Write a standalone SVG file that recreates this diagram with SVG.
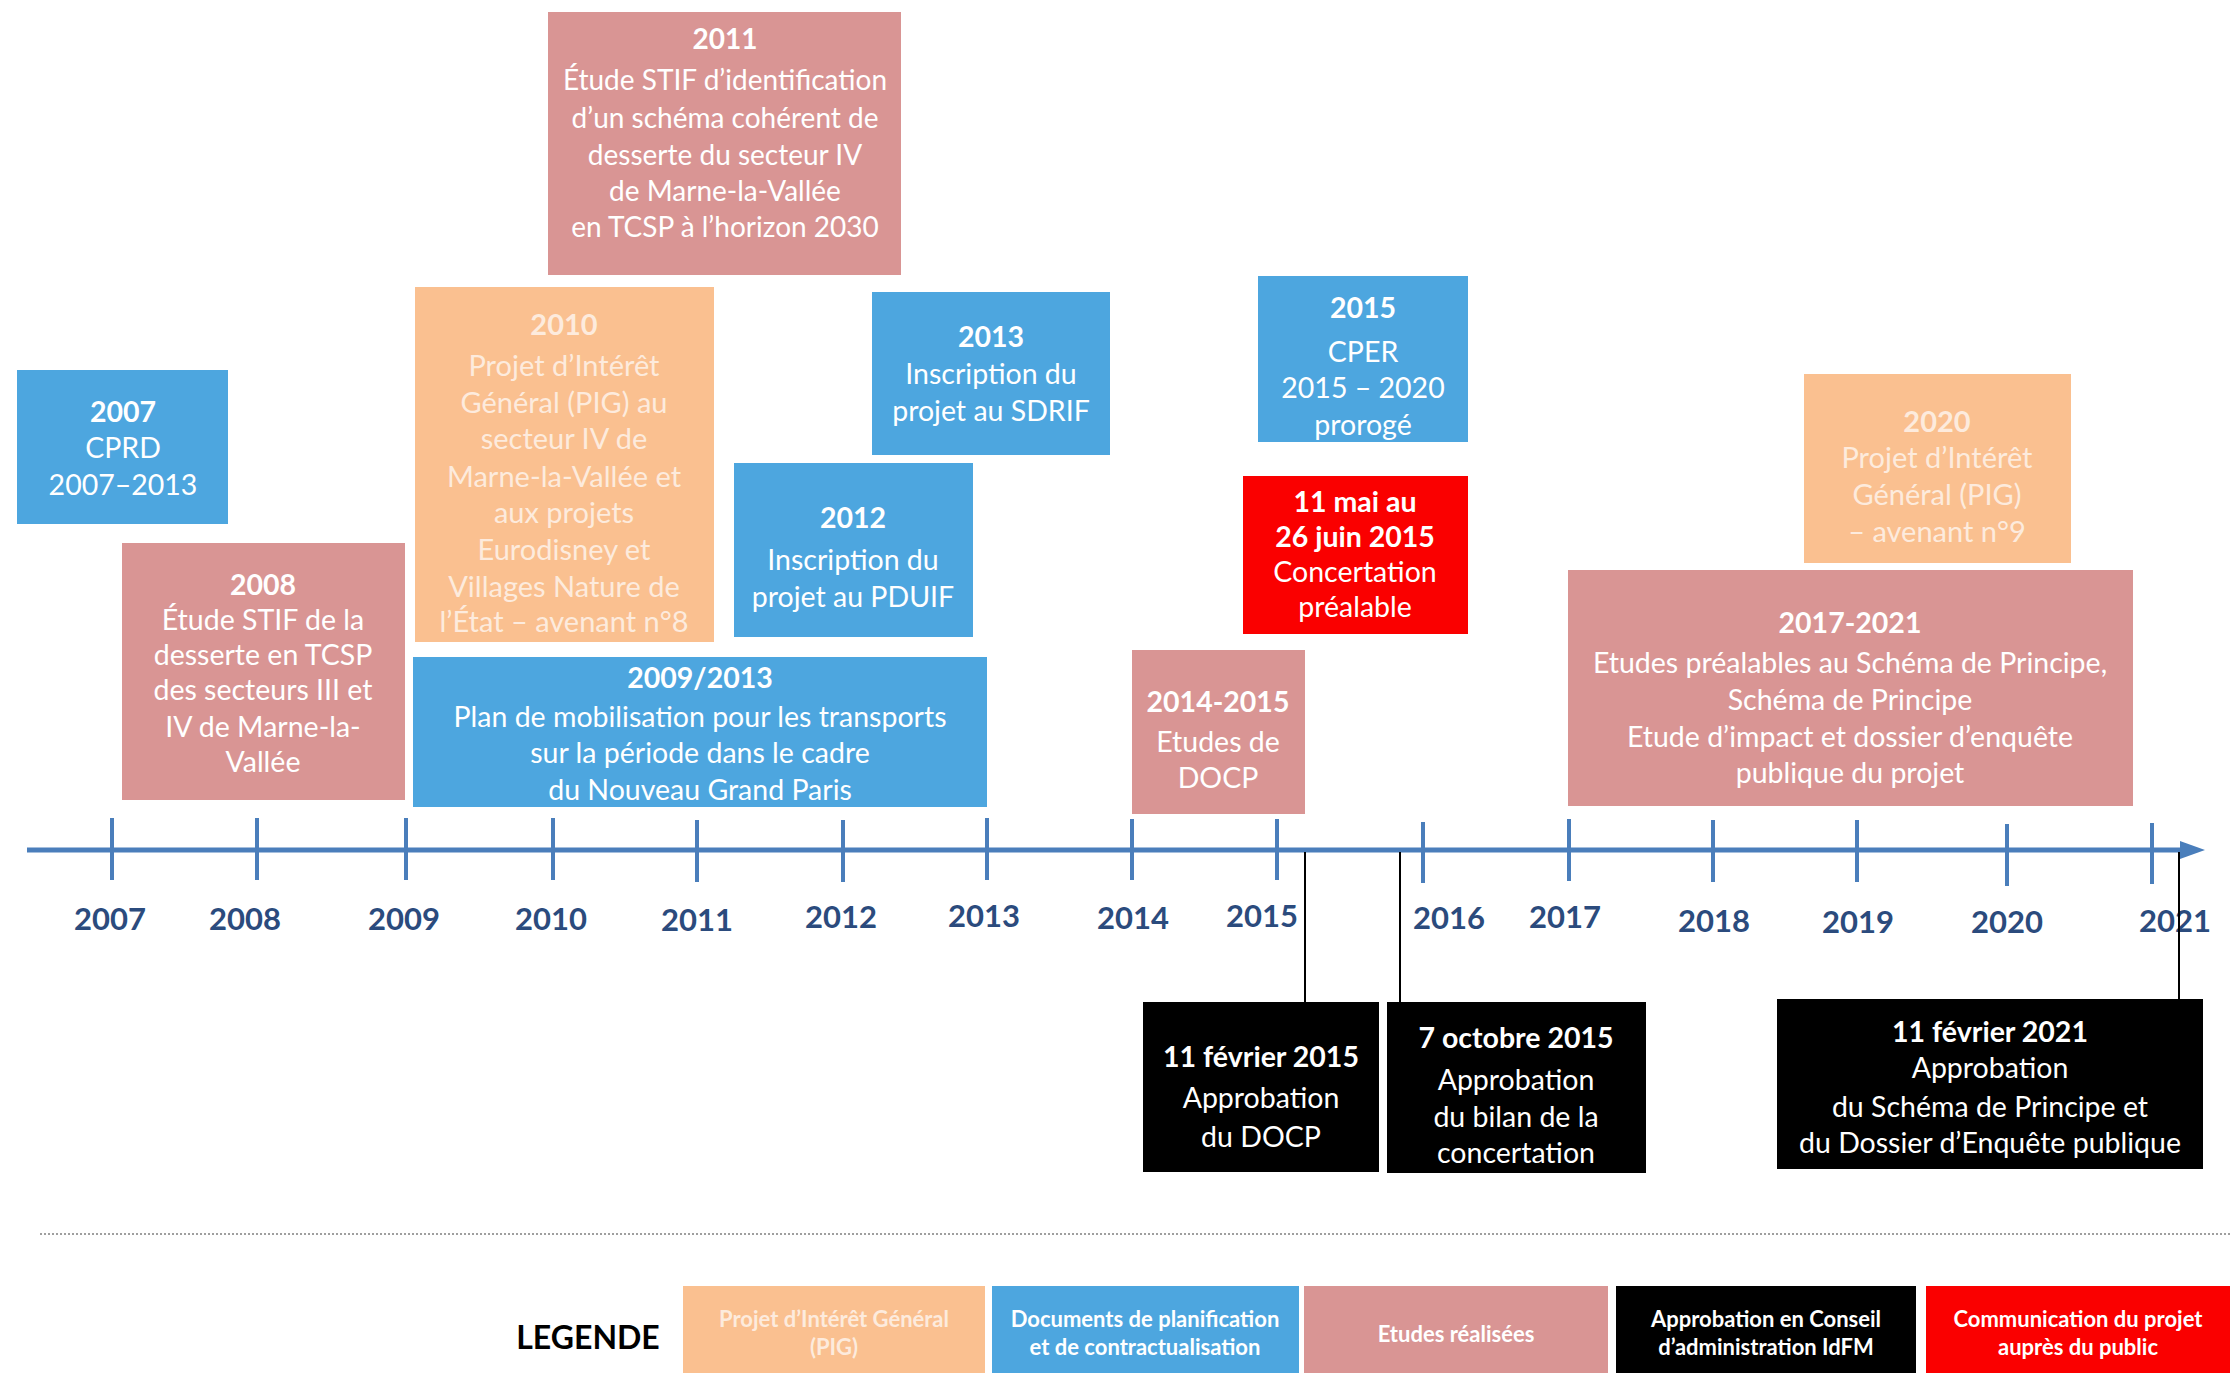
<svg xmlns="http://www.w3.org/2000/svg" width="2230" height="1373" viewBox="0 0 2230 1373">
<style>
.bl{fill:#4DA6DF}
.pk{fill:#D99594}
.or{fill:#FAC090}
.rd{fill:#FA0000}
.bk{fill:#000}
text{font-family:Lato,"Open Sans","Liberation Sans",sans-serif;text-anchor:middle}
.t{font-size:28.5px;fill:#fff}
.t28{font-size:28px}
.tk{font-size:28.5px;fill:#fff}
.to{font-size:29px;fill:#FDEBDD}
.b{font-weight:bold}
.yr{font-size:31px;font-weight:bold;fill:#2B4B7D}
.lg{font-size:22px;font-weight:bold;fill:#fff}
.lgo{font-size:22px;font-weight:bold;fill:#FDEBDD}
.axis{stroke:#4A7EBB;stroke-width:5;fill:none}
.tick{stroke:#4A7EBB;stroke-width:4}
.con{stroke:#000;stroke-width:2;fill:none}
</style>
<rect width="2230" height="1373" fill="#fff"/>

<g id="axis">
<line class="axis" x1="27" y1="850" x2="2185" y2="850"/>
<polygon points="2180,841 2205,850 2180,859" fill="#4A7EBB"/>
<g class="tick">
<line x1="112" y1="818" x2="112" y2="880"/>
<line x1="257" y1="818" x2="257" y2="880"/>
<line x1="406" y1="818" x2="406" y2="880"/>
<line x1="553" y1="818" x2="553" y2="880"/>
<line x1="697" y1="820" x2="697" y2="882"/>
<line x1="843" y1="820" x2="843" y2="882"/>
<line x1="987" y1="818" x2="987" y2="880"/>
<line x1="1132" y1="819" x2="1132" y2="880"/>
<line x1="1277" y1="819" x2="1277" y2="880"/>
<line x1="1423" y1="822" x2="1423" y2="883"/>
<line x1="1569" y1="819" x2="1569" y2="881"/>
<line x1="1713" y1="820" x2="1713" y2="882"/>
<line x1="1857" y1="820" x2="1857" y2="882"/>
<line x1="2007" y1="824" x2="2007" y2="886"/>
<line x1="2152" y1="823" x2="2152" y2="884"/>
</g>
<g class="yr">
<text x="110" y="930">2007</text>
<text x="245" y="930">2008</text>
<text x="404" y="930">2009</text>
<text x="551" y="930">2010</text>
<text x="697" y="931">2011</text>
<text x="841" y="928">2012</text>
<text x="984" y="927">2013</text>
<text x="1133" y="929">2014</text>
<text x="1262" y="927">2015</text>
<text x="1449" y="929">2016</text>
<text x="1565" y="928">2017</text>
<text x="1714" y="932">2018</text>
<text x="1858" y="933">2019</text>
<text x="2007" y="933">2020</text>
<text x="2175" y="932">2021</text>
</g>
</g>

<g id="n2011">
<rect class="pk" x="548" y="12" width="353" height="263"/>
<text class="t t28 b" x="725" y="49">2011</text>
<text class="t t28" x="725" y="90">Étude STIF d’identification</text>
<text class="t t28" x="725" y="128">d’un schéma cohérent de</text>
<text class="t t28" x="725" y="165">desserte du secteur IV</text>
<text class="t t28" x="725" y="201">de Marne-la-Vallée</text>
<text class="t t28" x="725" y="237">en TCSP à l’horizon 2030</text>
</g>

<g id="n2010">
<rect class="or" x="415" y="287" width="299" height="355"/>
<text class="to b" x="564" y="335">2010</text>
<text class="to" x="564" y="376">Projet d’Intérêt</text>
<text class="to" x="564" y="413">Général (PIG) au</text>
<text class="to" x="564" y="449">secteur IV de</text>
<text class="to" x="564" y="487">Marne-la-Vallée et</text>
<text class="to" x="564" y="523">aux projets</text>
<text class="to" x="564" y="560">Eurodisney et</text>
<text class="to" x="564" y="597">Villages Nature de</text>
<text class="to" x="564" y="632">l’État – avenant n°8</text>
</g>

<g id="n2013">
<rect class="bl" x="872" y="292" width="238" height="163"/>
<text class="t b" x="991" y="347">2013</text>
<text class="t" x="991" y="384">Inscription du</text>
<text class="t" x="991" y="421">projet au SDRIF</text>
</g>

<g id="n2007">
<rect class="bl" x="17" y="370" width="211" height="154"/>
<text class="t b" x="123" y="422">2007</text>
<text class="t" x="123" y="458">CPRD</text>
<text class="t" x="123" y="495">2007–2013</text>
</g>

<g id="n2012">
<rect class="bl" x="734" y="463" width="239" height="174"/>
<text class="t b" x="853" y="528">2012</text>
<text class="t" x="853" y="570">Inscription du</text>
<text class="t" x="853" y="607">projet au PDUIF</text>
</g>

<g id="n2008">
<rect class="pk" x="122" y="543" width="283" height="257"/>
<text class="t b" x="263" y="595">2008</text>
<text class="t" x="263" y="630">Étude STIF de la</text>
<text class="t" x="263" y="665">desserte en TCSP</text>
<text class="t" x="263" y="700">des secteurs III et</text>
<text class="t" x="263" y="737">IV de Marne-la-</text>
<text class="t" x="263" y="772">Vallée</text>
</g>

<g id="n2009">
<rect class="bl" x="413" y="657" width="574" height="150"/>
<text class="t b" x="700" y="688">2009/2013</text>
<text class="t" x="700" y="727">Plan de mobilisation pour les transports</text>
<text class="t" x="700" y="763">sur la période dans le cadre</text>
<text class="t" x="700" y="800">du Nouveau Grand Paris</text>
</g>

<g id="n2015cper">
<rect class="bl" x="1258" y="276" width="210" height="166"/>
<text class="t b" x="1363" y="318">2015</text>
<text class="t" x="1363" y="362">CPER</text>
<text class="t" x="1363" y="398">2015 – 2020</text>
<text class="t" x="1363" y="435">prorogé</text>
</g>

<g id="nconcertation">
<rect class="rd" x="1243" y="476" width="225" height="158"/>
<text class="t b" x="1355" y="512">11 mai au</text>
<text class="t b" x="1355" y="547">26 juin 2015</text>
<text class="t" x="1355" y="582">Concertation</text>
<text class="t" x="1355" y="617">préalable</text>
</g>

<g id="n2020">
<rect class="or" x="1804" y="374" width="267" height="189"/>
<text class="to b" x="1937" y="432">2020</text>
<text class="to" x="1937" y="468">Projet d’Intérêt</text>
<text class="to" x="1937" y="505">Général (PIG)</text>
<text class="to" x="1937" y="542">– avenant n°9</text>
</g>

<g id="n2014">
<rect class="pk" x="1132" y="650" width="173" height="164"/>
<text class="t b" x="1218" y="712">2014-2015</text>
<text class="t" x="1218" y="752">Etudes de</text>
<text class="t" x="1218" y="788">DOCP</text>
</g>

<g id="n2017">
<rect class="pk" x="1568" y="570" width="565" height="236"/>
<text class="t b" x="1850" y="633">2017-2021</text>
<text class="t" x="1850" y="673">Etudes préalables au Schéma de Principe,</text>
<text class="t" x="1850" y="710">Schéma de Principe</text>
<text class="t" x="1850" y="747">Etude d’impact et dossier d’enquête</text>
<text class="t" x="1850" y="783">publique du projet</text>
</g>

<g id="nDOCP">
<rect class="bk" x="1143" y="1002" width="236" height="170"/>
<text class="tk b" x="1261" y="1067">11 février 2015</text>
<text class="tk" x="1261" y="1108">Approbation</text>
<text class="tk" x="1261" y="1147">du DOCP</text>
</g>

<g id="nBilan">
<rect class="bk" x="1387" y="1002" width="259" height="171"/>
<text class="tk b" x="1516" y="1048">7 octobre 2015</text>
<text class="tk" x="1516" y="1090">Approbation</text>
<text class="tk" x="1516" y="1127">du bilan de la</text>
<text class="tk" x="1516" y="1163">concertation</text>
</g>

<g id="nSchema">
<rect class="bk" x="1777" y="999" width="426" height="170"/>
<text class="tk b" x="1990" y="1042">11 février 2021</text>
<text class="tk" x="1990" y="1078">Approbation</text>
<text class="tk" x="1990" y="1117">du Schéma de Principe et</text>
<text class="tk" x="1990" y="1153">du Dossier d’Enquête publique</text>
</g>

<g id="connectors">
<line class="con" x1="1305" y1="852" x2="1305" y2="1002"/>
<line class="con" x1="1400" y1="852" x2="1400" y2="1002"/>
<line class="con" x1="2179" y1="852" x2="2179" y2="999"/>
</g>

<line id="separator" x1="40" y1="1234" x2="2230" y2="1234" stroke="#808080" stroke-width="1.5" stroke-dasharray="2,2"/>

<g id="legend">
<text x="588" y="1349" style="font-size:32px;font-weight:bold;fill:#000">LEGENDE</text>
<g id="lg-pig">
<rect class="or" x="683" y="1286" width="302" height="87"/>
<text class="lgo" x="834" y="1327">Projet d’Intérêt Général</text>
<text class="lgo" x="834" y="1355">(PIG)</text>
</g>
<g id="lg-doc">
<rect class="bl" x="992" y="1286" width="307" height="87"/>
<text class="lg" x="1145" y="1327">Documents de planification</text>
<text class="lg" x="1145" y="1355">et de contractualisation</text>
</g>
<g id="lg-etudes">
<rect class="pk" x="1304" y="1286" width="304" height="87"/>
<text class="lg" x="1456" y="1342">Etudes réalisées</text>
</g>
<g id="lg-approb">
<rect class="bk" x="1616" y="1286" width="300" height="87"/>
<text class="lg" x="1766" y="1327">Approbation en Conseil</text>
<text class="lg" x="1766" y="1355">d’administration IdFM</text>
</g>
<g id="lg-comm">
<rect class="rd" x="1926" y="1286" width="304" height="87"/>
<text class="lg" x="2078" y="1327">Communication du projet</text>
<text class="lg" x="2078" y="1355">auprès du public</text>
</g>
</g>
</svg>
